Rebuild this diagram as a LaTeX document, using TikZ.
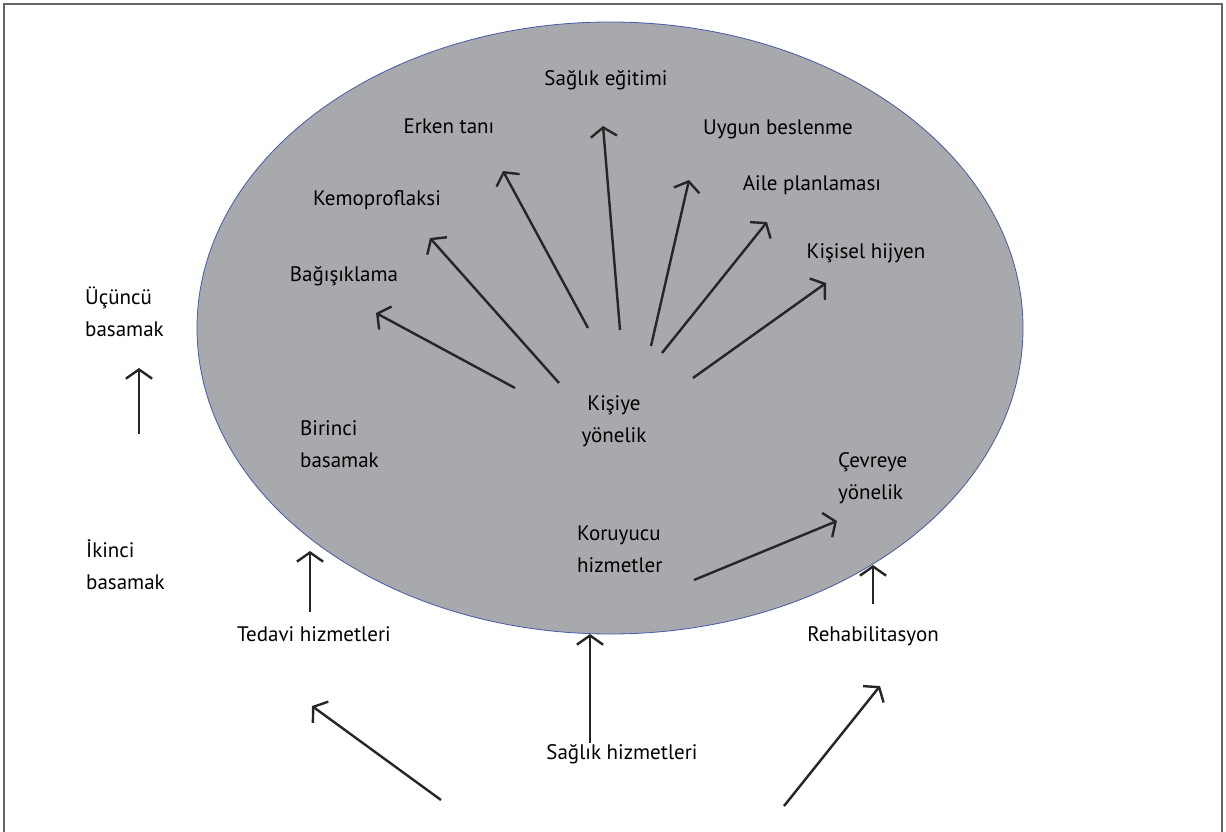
\documentclass[tikz,border=0pt]{standalone}
\usepackage{fontspec}
\setmainfont{PT Sans}
\usetikzlibrary{arrows.meta,shapes.geometric}

\definecolor{ovalgray}{RGB}{167,169,172}
\definecolor{ovalblue}{RGB}{70,90,170}
\definecolor{framegray}{RGB}{100,100,100}

\tikzset{
  lbl/.style={font=\fontsize{21}{32}\selectfont, inner sep=0pt},
  lblleft/.style={lbl, align=left, anchor=west},
  arr/.style={-{Straight Barb[angle=110:16pt]}, line width=2.4pt, draw=black!85},
}

\begin{document}
\begin{tikzpicture}[x=1pt, y=-1pt]
  \useasboundingbox (0,0) rectangle (1226,832);
  % frame
  \draw[framegray, line width=2pt] (4,832) -- (4,4) -- (1222,4) -- (1222,832);

  % the oval
  \node[ellipse, draw=ovalblue, fill=ovalgray, line width=0.8pt, inner sep=0pt,
        minimum width=826pt, minimum height=612pt] (oval) at (610,328) {};

  % labels
  \node[lbl] (egitim) at (606,80) {Sağlık eğitimi};
  \node[lbl] (erken) at (449,126) {Erken tanı};
  \node[lbl] (uygun) at (778,129) {Uygun beslenme};
  \node[lbl] (kemo) at (377,200) {Kemoproflaksi};
  \node[lbl] (aile) at (812,185) {Aile planlaması};
  \node[lbl] (bagis) at (344,276) {Bağışıklama};
  \node[lbl] (hijyen) at (866,253) {Kişisel hijyen};
  \node[lbl, align=center] (kisiye) at (614,421) {Kişiye\\yönelik};
  \node[lblleft] (birinci) at (300,444) {Birinci\\basamak};
  \node[lblleft] (cevre) at (838,478) {Çevreye\\yönelik};
  \node[lblleft] (koru) at (577,549) {Koruyucu\\hizmetler};
  \node[lblleft] (ucuncu) at (85,312) {Üçüncü\\basamak};
  \node[lblleft] (ikinci) at (86,565) {İkinci\\basamak};
  \node[lbl] (tedavi) at (314,634) {Tedavi hizmetleri};
  \node[lbl] (rehab) at (873,636) {Rehabilitasyon};
  \node[lbl] (saglik) at (622,754) {Sağlık hizmetleri};

  % arrow ends
  \coordinate (k1) at (515,388); \coordinate (b1) at (376,313);
  \coordinate (k2) at (559,383); \coordinate (b2) at (430,238);
  \coordinate (k3) at (588,328); \coordinate (b3) at (503,171);
  \coordinate (k4) at (620,330); \coordinate (b4) at (603,126);
  \coordinate (k5) at (651,346); \coordinate (b5) at (689,180);
  \coordinate (k6) at (662,353); \coordinate (b6) at (767,222);
  \coordinate (k7) at (693,378); \coordinate (b7) at (826,283);
  \coordinate (ik) at (139,434); \coordinate (uc) at (139,368);
  \coordinate (ko) at (694,580); \coordinate (ce) at (837,521);
  \coordinate (ted0) at (310,612); \coordinate (ted1) at (310,551);
  \coordinate (reh0) at (873,604); \coordinate (reh1) at (873,565);
  \coordinate (sa0) at (590,743); \coordinate (sa1) at (590,634);
  \coordinate (sl) at (441,800); \coordinate (tl) at (312,706);
  \coordinate (sr) at (784,806); \coordinate (rr) at (880,686);

  % connectors
  \foreach \i in {1,...,7} {
    \draw[arr] (k\i) -- (b\i);
  }
  \draw[arr] (ik) -- (uc);
  \draw[arr] (ko) -- (ce);
  \draw[arr] (ted0) -- (ted1);
  \draw[arr] (reh0) -- (reh1);
  \draw[arr] (sa0) -- (sa1);
  \draw[arr] (sl) -- (tl);
  \draw[arr] (sr) -- (rr);
\end{tikzpicture}
\end{document}
